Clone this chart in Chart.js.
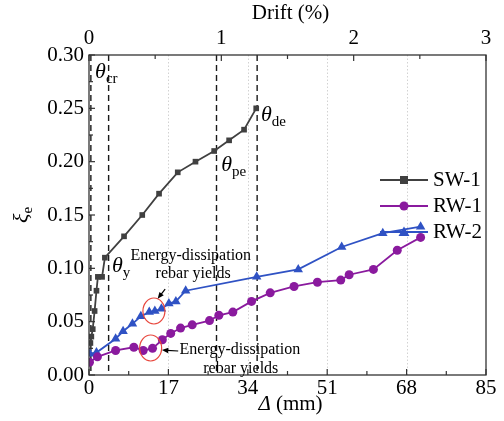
<!DOCTYPE html>
<html>
<head>
<meta charset="utf-8">
<script src="https://cdn.jsdelivr.net/npm/chart.js"></script>
<style>
  body { margin: 0; background: #fff; }
  #wrap { width: 504px; height: 421px; }
</style>
</head>
<body>
<div id="wrap"><canvas id="myChart" width="504" height="421"></canvas></div>
<script>
// 1. Data: top displacement (mm) vs equivalent damping ratio
const swDisp = [0.3, 0.5, 0.8, 1.2, 1.6, 1.9, 2.8, 3.4, 7.5, 11.4, 15.0, 19.0, 22.8, 26.8, 30.0, 33.2, 35.8];
const swXi   = [0.030, 0.036, 0.043, 0.060, 0.079, 0.092, 0.092, 0.110, 0.130, 0.150, 0.170, 0.190, 0.200, 0.210, 0.220, 0.230, 0.250];

const rw1Disp = [0.1, 1.8, 5.7, 9.6, 11.6, 13.6, 15.7, 17.5, 19.6, 22.1, 25.8, 27.8, 30.8, 34.8, 38.8, 43.9, 48.9, 53.9, 55.7, 60.9, 66.0, 71.0];
const rw1Xi   = [0.012, 0.017, 0.023, 0.026, 0.023, 0.025, 0.033, 0.039, 0.044, 0.047, 0.051, 0.056, 0.059, 0.069, 0.077, 0.083, 0.087, 0.089, 0.094, 0.099, 0.117, 0.129];

const rw2Disp = [0.2, 1.6, 5.7, 7.3, 9.3, 11.1, 12.9, 14.1, 15.5, 17.1, 18.6, 20.7, 35.9, 44.8, 54.1, 62.9, 71.0];
const rw2Xi   = [0.020, 0.021, 0.034, 0.041, 0.048, 0.055, 0.059, 0.060, 0.062, 0.067, 0.069, 0.079, 0.092, 0.099, 0.120, 0.133, 0.139];

// characteristic drift points of SW-1 (mm)
const thetaNames = ['cr', 'y', 'pe', 'de'];
const thetaDisp  = [0.4, 4.2, 27.3, 36.0];

// tick labels
const dispTicks  = [0, 17, 34, 51, 68, 85];
const driftTicks = [0, 1, 2, 3];
const xiTicks    = [0, 0.05, 0.10, 0.15, 0.20, 0.25, 0.30];

const seriesNames = ['SW-1', 'RW-1', 'RW-2'];

// 2. Styles
const FONT = "'Liberation Serif', 'Times New Roman', serif";
const COLORS = ['#404040', '#8a1a9e', '#2f52c4'];
const MARKERS = ['rect', 'circle', 'triangle'];
const SIZES = [4, 4.5, 5.5];

// label spots in data units (displacement, ratio)
const thetaLabelAt = [[1.3, 0.284], [4.9, 0.102], [28.3, 0.197], [36.8, 0.244]];
const notes = [
  { lines: ['Energy-dissipation', 'rebar yields'], at: [[21.8, 0.1116], [22.3, 0.0947]],
    ring: [13.9, 0.060], arrow: [[16.3, 0.0806], [14.7, 0.0715]] },
  { lines: ['Energy-dissipation', 'rebar yields'], at: [[32.3, 0.0234], [32.5, 0.0056]],
    ring: [13.2, 0.0253], arrow: [[19.1, 0.0225], [15.6, 0.0234]] }
];

function toPoints(xs, ys) {
  return xs.map((v, i) => ({ x: v, y: ys[i] }));
}

function line(ctx, x1, y1, x2, y2) {
  ctx.beginPath(); ctx.moveTo(x1, y1); ctx.lineTo(x2, y2); ctx.stroke();
}

function marker(ctx, style, x, y, r, color) {
  ctx.fillStyle = color;
  ctx.beginPath();
  if (style === 'rect') {
    ctx.rect(x - r, y - r, 2 * r, 2 * r);
  } else if (style === 'circle') {
    ctx.arc(x, y, r, 0, Math.PI * 2);
  } else {
    // equilateral, centred like Chart.js does it
    for (let k = 0; k < 3; k++) {
      const t = -Math.PI / 2 + k * 2 * Math.PI / 3;
      const px = x + Math.cos(t) * r * 1.15, py = y + Math.sin(t) * r * 1.15 + r * 0.15;
      k ? ctx.lineTo(px, py) : ctx.moveTo(px, py);
    }
    ctx.closePath();
  }
  ctx.fill();
}

// text made of parts: [text, font, dy]
function drawParts(ctx, parts, x, y, align) {
  let w = 0;
  parts.forEach(p => { ctx.font = p[1]; w += ctx.measureText(p[0]).width; });
  let cx = align === 'center' ? x - w / 2 : x;
  ctx.textAlign = 'left';
  ctx.textBaseline = 'middle';
  parts.forEach(p => {
    ctx.font = p[1];
    ctx.fillText(p[0], cx, y + (p[2] || 0));
    cx += ctx.measureText(p[0]).width;
  });
}

// 3. Frame, ticks, reference lines and notes
const decorations = {
  id: 'decorations',
  beforeDatasetsDraw(chart) {
    const { ctx, chartArea: a, scales: { x } } = chart;
    ctx.save();
    // dotted grid at the major displacement ticks
    ctx.strokeStyle = '#d2d2d2';
    ctx.lineWidth = 1;
    ctx.setLineDash([1.5, 2]);
    dispTicks.slice(1, -1).forEach(v => {
      const px = Math.round(x.getPixelForValue(v)) + 0.5;
      line(ctx, px, a.top, px, a.bottom);
    });
    // dashed drift markers
    ctx.strokeStyle = '#1a1a1a';
    ctx.lineWidth = 1.4;
    ctx.setLineDash([6, 4]);
    thetaDisp.forEach(v => {
      const px = x.getPixelForValue(v);
      line(ctx, px, a.top, px, a.bottom);
    });
    ctx.restore();
  },
  afterDatasetsDraw(chart) {
    const { ctx, chartArea: a, scales: { x, x2, y } } = chart;
    ctx.save();

    // box
    ctx.strokeStyle = '#333';
    ctx.lineWidth = 1.3;
    ctx.strokeRect(a.left, a.top, a.right - a.left, a.bottom - a.top);

    // inward ticks
    ctx.lineWidth = 1.2;
    for (let i = 0; i <= 10; i++) {
      const px = x.getPixelForValue(i * 8.5);
      line(ctx, px, a.bottom, px, a.bottom - (i % 2 ? 4 : 6));
    }
    for (let i = 0; i <= 6; i++) {
      const px = x2.getPixelForValue(i * 0.5);
      line(ctx, px, a.top, px, a.top + (i % 2 ? 4 : 6));
    }
    for (let i = 0; i <= 12; i++) {
      const py = y.getPixelForValue(i * 0.025);
      line(ctx, a.left, py, a.left + (i % 2 ? 4 : 6), py);
    }

    // theta labels
    ctx.fillStyle = '#000';
    thetaNames.forEach((n, i) => {
      const [dx, dy] = thetaLabelAt[i];
      drawParts(ctx, [['θ', 'italic 22px ' + FONT], [n, '15px ' + FONT, 7]],
        x.getPixelForValue(dx), y.getPixelForValue(dy), 'left');
    });

    // rebar yield notes
    notes.forEach(nt => {
      ctx.fillStyle = '#000';
      nt.lines.forEach((t, i) => {
        drawParts(ctx, [[t, '16px ' + FONT]],
          x.getPixelForValue(nt.at[i][0]), y.getPixelForValue(nt.at[i][1]), 'center');
      });
      ctx.strokeStyle = '#e8473d';
      ctx.lineWidth = 1.2;
      ctx.beginPath();
      ctx.ellipse(x.getPixelForValue(nt.ring[0]), y.getPixelForValue(nt.ring[1]), 11, 13, 0, 0, Math.PI * 2);
      ctx.stroke();

      const x1 = x.getPixelForValue(nt.arrow[0][0]), y1 = y.getPixelForValue(nt.arrow[0][1]);
      const x2p = x.getPixelForValue(nt.arrow[1][0]), y2p = y.getPixelForValue(nt.arrow[1][1]);
      const ang = Math.atan2(y2p - y1, x2p - x1);
      ctx.strokeStyle = '#000';
      ctx.fillStyle = '#000';
      ctx.lineWidth = 1.2;
      line(ctx, x1, y1, x2p - 5 * Math.cos(ang), y2p - 5 * Math.sin(ang));
      ctx.beginPath();
      ctx.moveTo(x2p, y2p);
      ctx.lineTo(x2p - 7 * Math.cos(ang - 0.4), y2p - 7 * Math.sin(ang - 0.4));
      ctx.lineTo(x2p - 7 * Math.cos(ang + 0.4), y2p - 7 * Math.sin(ang + 0.4));
      ctx.closePath();
      ctx.fill();
    });

    // legend
    const lx = a.right - 106;
    seriesNames.forEach((name, i) => {
      const ly = a.top + 125 + i * 26;
      ctx.strokeStyle = COLORS[i];
      ctx.lineWidth = 1.8;
      line(ctx, lx, ly, lx + 48, ly);
      marker(ctx, MARKERS[i], lx + 24, ly, SIZES[i], COLORS[i]);
      ctx.fillStyle = '#000';
      drawParts(ctx, [[name, '21px ' + FONT]], lx + 53, ly, 'left');
    });
    ctx.restore();
  },
  afterDraw(chart) {
    const { ctx, chartArea: a } = chart;
    const mid = (a.left + a.right) / 2;
    ctx.save();
    ctx.fillStyle = '#000';
    drawParts(ctx, [['Drift (%)', '21px ' + FONT]], mid + 3, 13, 'center');
    drawParts(ctx, [['Δ', 'italic 21px ' + FONT], [' (mm)', '21px ' + FONT]], mid + 3, 404, 'center');
    ctx.translate(22, (a.top + a.bottom) / 2);
    ctx.rotate(-Math.PI / 2);
    drawParts(ctx, [['ξ', 'italic 22px ' + FONT], ['e', '15px ' + FONT, 6]], 0, 0, 'center');
    ctx.restore();
  }
};

// 4. Chart
const tickFont = { family: FONT, size: 21 };
const datasets = [
  [swDisp, swXi], [rw1Disp, rw1Xi], [rw2Disp, rw2Xi]
].map((d, i) => ({
  label: seriesNames[i],
  data: toPoints(d[0], d[1]),
  borderColor: COLORS[i],
  backgroundColor: COLORS[i],
  borderWidth: 1.8,
  pointStyle: MARKERS[i],
  pointRadius: SIZES[i],
  pointHoverRadius: SIZES[i],
  pointBorderWidth: 0,
  tension: 0,
  xAxisID: 'x',
  yAxisID: 'y'
}));

const ctx = document.getElementById('myChart').getContext('2d');
const myChart = new Chart(ctx, {
  type: 'line',
  data: { datasets },
  plugins: [decorations],
  options: {
    responsive: false,
    animation: false,
    events: [],
    layout: { padding: { left: 0, right: 18, top: 0, bottom: 0 } },
    plugins: { legend: { display: false }, tooltip: { enabled: false } },
    scales: {
      x: {
        type: 'linear', position: 'bottom', min: 0, max: 85,
        afterBuildTicks: s => { s.ticks = dispTicks.map(v => ({ value: v })); },
        ticks: { font: tickFont, color: '#000', padding: 1, maxRotation: 0 },
        grid: { display: false, drawTicks: false },
        border: { display: false },
        afterFit: s => { s.height = 46; }
      },
      x2: {
        type: 'linear', axis: 'x', position: 'top', min: 0, max: 3,
        afterBuildTicks: s => { s.ticks = driftTicks.map(v => ({ value: v })); },
        ticks: { font: tickFont, color: '#000', padding: 4, maxRotation: 0 },
        grid: { display: false, drawTicks: false },
        border: { display: false },
        afterFit: s => { s.height = 55; }
      },
      y: {
        type: 'linear', min: 0, max: 0.3,
        afterBuildTicks: s => { s.ticks = xiTicks.map(v => ({ value: v })); },
        ticks: { font: tickFont, color: '#000', padding: 5, callback: v => v.toFixed(2) },
        grid: { display: false, drawTicks: false },
        border: { display: false },
        afterFit: s => { s.width = 89; }
      }
    }
  }
});
</script>
</body>
</html>
